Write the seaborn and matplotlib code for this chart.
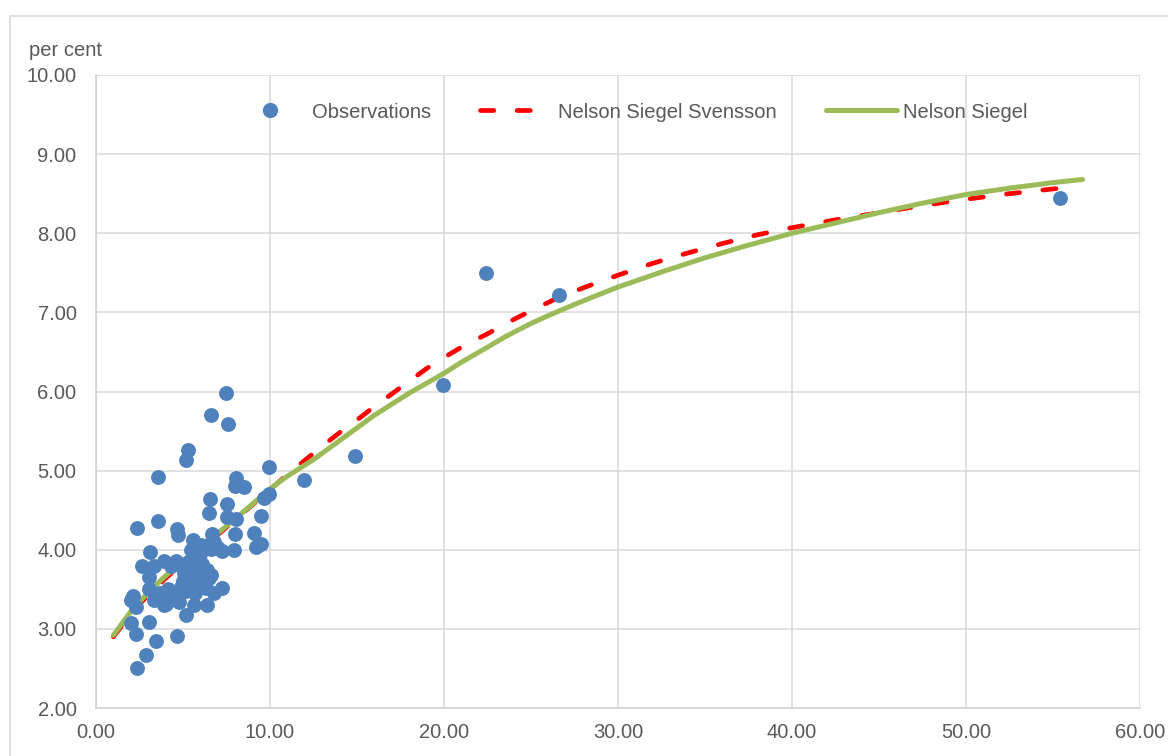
import matplotlib
matplotlib.use('Agg')
import matplotlib.pyplot as plt
from matplotlib import ticker
from matplotlib.lines import Line2D
from matplotlib.patches import Rectangle
import seaborn as sns
import pandas as pd

# observations (maturity in years, yield in per cent)
obs_x = [2.33, 2.87, 3.44, 4.64, 2.29, 2.01, 3.05, 5.16, 2.29, 3.34,
         3.91, 4.77, 5.63, 6.40, 2.10, 2.02, 3.05, 4.11, 4.87, 5.44,
         6.78, 7.26, 5.06, 6.02, 6.49, 3.05, 5.92, 6.40, 3.91, 4.58,
         3.34, 5.26, 2.62, 3.09, 5.44, 6.02, 6.59, 7.26, 7.93, 6.69,
         6.78, 5.58, 9.07, 9.17, 9.46, 7.98, 4.64, 4.72, 2.33, 3.59,
         7.51, 8.02, 9.46, 6.49, 7.55, 6.53, 9.64, 9.93, 7.98, 8.50,
         8.02, 3.57, 9.97, 5.16, 5.31, 7.60, 6.63, 7.49, 11.94, 14.90,
         19.94, 22.40, 26.60, 55.40,
         5.50, 5.80, 6.20, 5.70, 6.30, 4.30, 4.95, 5.45, 6.10, 4.25,
         4.50, 3.65, 4.05, 5.20, 5.00, 6.60, 7.00, 6.00, 5.90, 6.60]
obs_y = [2.51, 2.67, 2.85, 2.91, 2.94, 3.07, 3.09, 3.17, 3.28, 3.37,
         3.30, 3.34, 3.30, 3.30, 3.41, 3.37, 3.51, 3.51, 3.53, 3.55,
         3.45, 3.52, 3.70, 3.66, 3.64, 3.66, 3.79, 3.74, 3.86, 3.86,
         3.79, 3.85, 3.80, 3.97, 4.00, 4.06, 4.01, 3.99, 4.00, 4.20,
         4.10, 4.12, 4.21, 4.03, 4.07, 4.20, 4.26, 4.19, 4.27, 4.36,
         4.41, 4.39, 4.43, 4.47, 4.58, 4.64, 4.65, 4.70, 4.80, 4.79,
         4.91, 4.92, 5.04, 5.13, 5.26, 5.59, 5.70, 5.98, 4.88, 5.18,
         6.08, 7.50, 7.22, 8.45,
         3.62, 3.70, 3.58, 3.45, 3.52, 3.80, 3.80, 3.76, 3.82, 3.42,
         3.38, 3.45, 3.32, 3.48, 3.60, 4.08, 4.02, 3.95, 3.55, 3.68]

# Nelson Siegel Svensson curve
nss_x = [1.0, 2.0, 3.0, 4.0, 5.0, 6.0, 7.0, 8.0, 9.0, 10.0, 11.0, 12.0,
         13.0, 14.0, 15.0, 16.0, 17.0, 18.0, 19.0, 20.0, 21.0, 22.5, 24.0,
         25.0, 26.5, 28.0, 30.0, 32.0, 34.0, 36.0, 38.0, 40.0, 42.5, 45.0,
         47.5, 50.0, 52.5, 55.0, 56.5]
nss_y = [2.90, 3.19, 3.43, 3.64, 3.83, 4.01, 4.19, 4.38, 4.57, 4.76, 4.95, 5.13,
         5.31, 5.48, 5.64, 5.81, 5.97, 6.13, 6.29, 6.43, 6.56, 6.73, 6.91,
         7.02, 7.18, 7.31, 7.47, 7.62, 7.75, 7.87, 7.98, 8.07, 8.17, 8.26,
         8.35, 8.43, 8.50, 8.56, 8.59]

# Nelson Siegel curve
ns_x = [1.0, 2.0, 3.0, 4.0, 5.0, 6.0, 7.0, 8.0, 9.0, 10.0, 11.0, 12.5,
        14.0, 16.0, 18.0, 20.0, 21.0, 22.5, 23.5, 25.0, 26.0, 27.5, 28.5,
        30.0, 32.5, 35.0, 37.5, 40.0, 42.5, 45.0, 47.5, 50.0, 52.5, 55.0,
        56.7]
ns_y = [2.92, 3.22, 3.46, 3.67, 3.85, 4.03, 4.21, 4.39, 4.58, 4.77, 4.93, 5.14,
        5.38, 5.70, 5.98, 6.23, 6.37, 6.56, 6.69, 6.86, 6.96, 7.10, 7.19,
        7.32, 7.51, 7.69, 7.85, 8.00, 8.13, 8.26, 8.38, 8.49, 8.57, 8.64,
        8.68]

x_ticks = [0, 10, 20, 30, 40, 50, 60]
y_ticks = [2, 3, 4, 5, 6, 7, 8, 9, 10]

BLUE = '#4F81BD'
RED = '#FF0000'
GREEN = '#9BBB59'
GRID = '#D9D9D9'
TXT = '#595959'
FS = 14.5

sns.set_theme(style='white')
plt.rcParams['font.family'] = ['Liberation Sans', 'DejaVu Sans']

W, H = 1168, 756
fig = plt.figure(figsize=(W / 100, H / 100), dpi=100)
ax = fig.add_axes([96 / W, 1 - 708 / H, (1140 - 96) / W, (708 - 75) / H])

obs = pd.DataFrame({'x': obs_x, 'y': obs_y})
nss = pd.DataFrame({'x': nss_x, 'y': nss_y})
ns = pd.DataFrame({'x': ns_x, 'y': ns_y})

# curves first (red under green), dots on top
sns.lineplot(data=nss, x='x', y='y', ax=ax, color=RED, lw=3.4, sort=False, zorder=2)
red_line = ax.lines[-1]
red_line.set_dashes((2.8, 4.95))
red_line.set_dash_capstyle('round')
sns.lineplot(data=ns, x='x', y='y', ax=ax, color=GREEN, lw=3.6, sort=False, zorder=3)
ax.lines[-1].set_solid_capstyle('round')
ax.lines[-1].set_solid_joinstyle('round')
sns.scatterplot(data=obs, x='x', y='y', ax=ax, color=BLUE, s=115, linewidth=0, zorder=4)

ax.set_xlim(0, 60)
ax.set_ylim(2, 10)
ax.set_xticks(x_ticks)
ax.set_yticks(y_ticks)
ax.xaxis.set_major_formatter(ticker.FormatStrFormatter('%.2f'))
ax.yaxis.set_major_formatter(ticker.FormatStrFormatter('%.2f'))
ax.set_xlabel('')
ax.set_ylabel('')
ax.grid(True, color=GRID, lw=1.1, zorder=0)
ax.set_axisbelow(True)
for side in ['top', 'right']:
    ax.spines[side].set_visible(False)
for side in ['left', 'bottom']:
    ax.spines[side].set_color('#CFCFCF')
    ax.spines[side].set_linewidth(1.1)
ax.tick_params(axis='x', length=0, pad=11, labelsize=FS, labelcolor=TXT)
ax.tick_params(axis='y', length=0, pad=14, labelsize=FS, labelcolor=TXT)

fig.text(29 / W, 1 - 50 / H, 'per cent', ha='left', va='center', fontsize=FS, color=TXT)

# legend
handles = [
    Line2D([], [], ls='', marker='o', markersize=11, color=BLUE, markeredgewidth=0),
    Line2D([], [], color=RED, lw=3.4, dashes=(2.8, 4.95), dash_capstyle='round'),
    Line2D([], [], color=GREEN, lw=3.6, solid_capstyle='round'),
]
labels = ['Observations', 'Nelson Siegel Svensson', 'Nelson Siegel']
leg = ax.legend(handles, labels, ncol=3, frameon=False, fontsize=FS,
                loc='center left', bbox_to_anchor=(234 / W, 1 - 112 / H),
                bbox_transform=fig.transFigure, borderpad=0, borderaxespad=0,
                handlelength=3.55, handletextpad=0.3, columnspacing=2.45)
for t in leg.get_texts():
    t.set_color(TXT)

# chart area border (right and bottom sides run off the picture)
fig.patches.append(Rectangle((10 / W, -20 / H), (1200 - 10) / W, (756 + 20 - 16) / H,
                             transform=fig.transFigure, fill=False,
                             edgecolor=GRID, lw=1.2))

fig.savefig('out.png', dpi=100)
plt.close(fig)
